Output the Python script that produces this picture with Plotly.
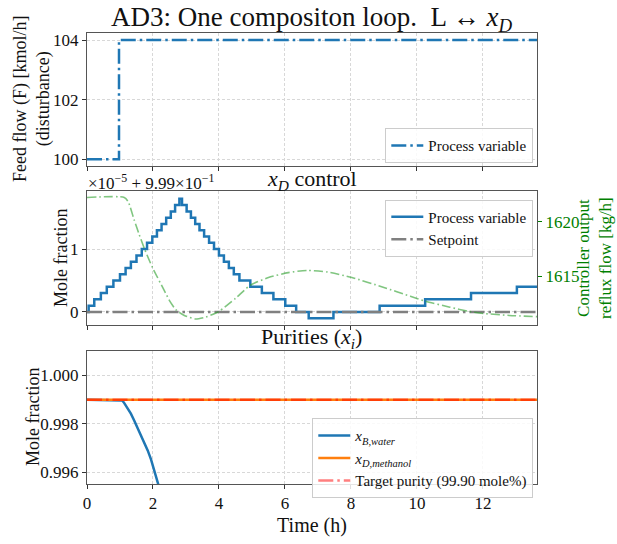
import plotly.graph_objects as go

# ---------------- data ----------------
# Top panel: feed flow disturbance (kmol/h)
feed_t = [0.0, 0.97, 13.64]
feed_F = [100.0, 104.0, 104.0]

# Middle panel: x_D process variable, shown as (x_D - 0.999) / 1e-5
pv_t = [0, 0.05, 0.22, 0.42, 0.6, 0.8, 1.0, 1.17, 1.33, 1.5, 1.66, 1.82, 1.98,
        2.12, 2.26, 2.4, 2.54, 2.67, 2.8, 2.88, 3.02, 3.15, 3.28, 3.41, 3.55,
        3.7, 3.85, 4.0, 4.15, 4.3, 4.45, 4.62, 4.95, 5.3, 5.65, 6.01, 6.34,
        6.72, 7.47, 8.87, 10.25, 11.64, 13.03, 13.64]
pv_val = [0, 0.1, 0.2, 0.3, 0.4, 0.5, 0.6, 0.7, 0.8, 0.9, 1.0, 1.1, 1.2,
          1.3, 1.4, 1.5, 1.6, 1.7, 1.8, 1.7, 1.6, 1.5, 1.4, 1.3, 1.2,
          1.1, 1.0, 0.9, 0.8, 0.7, 0.6, 0.5, 0.4, 0.3, 0.2, 0.1, 0.0,
          -0.1, 0.0, 0.1, 0.2, 0.3, 0.4, 0.4]
sp_t = [0, 13.64]
sp_val = [0, 0]

# Controller output: reflux flow (kg/h)
co_t = [0, 1.13, 1.25, 1.43, 1.58, 1.74, 1.99, 2.34, 2.5, 2.7, 2.95, 3.28,
        3.6, 3.99, 4.5, 4.95, 5.5, 6.1, 6.67, 7.3, 8.03, 9.0, 9.8, 10.25,
        11.0, 11.6, 12.02, 12.8, 13.64]
co_val = [1622.2, 1622.2, 1621.8, 1620.15, 1618.84, 1617.53, 1615.78, 1613.74,
          1612.8, 1611.95, 1611.45, 1611.13, 1611.3, 1611.8, 1613.0, 1614.2,
          1614.9, 1615.35, 1615.55, 1615.4, 1614.9, 1614.0, 1613.2, 1612.75,
          1612.2, 1611.8, 1611.63, 1611.45, 1611.34]

# Bottom panel: purities
xb_t = [0, 1.0, 1.07, 1.13, 1.23, 1.33, 1.43, 1.53, 1.64, 1.74, 1.84, 1.94, 2.04, 2.14, 2.3, 2.5]
xb_val = [0.999, 0.999, 0.99897, 0.99886, 0.99866, 0.99842, 0.99814, 0.99783, 0.99754,
          0.99724, 0.99690, 0.99653, 0.99612, 0.99567, 0.9949, 0.9939]
xd_t = [0, 13.64]
xd_val = [0.999, 0.999]
target_t = [0, 13.64]
target_val = [0.999, 0.999]

x_ticks = [0, 2, 4, 6, 8, 10, 12]

# ---------------- geometry helpers ----------------
W, H = 617, 544
L, R, T, B = 87, 537, 33, 504
def px(x):
    return (x - L) / (R - L)
def py(y):
    return (B - y) / (B - T)

FONT = "Liberation Serif"
BLUE = "#1f77b4"
DASHDOT = "15px,4px,2.5px,4px"

fig = go.Figure()

fig.add_trace(go.Scatter(x=feed_t, y=feed_F, mode="lines", line_shape="hv",
                         line=dict(color=BLUE, width=2.5, dash=DASHDOT),
                         name="Process variable", xaxis="x3", yaxis="y3",
                         legend="legend"))

fig.add_trace(go.Scatter(x=pv_t, y=pv_val, mode="lines", line_shape="hv",
                         line=dict(color=BLUE, width=2.5),
                         name="Process variable", xaxis="x2", yaxis="y2",
                         legend="legend2"))
fig.add_trace(go.Scatter(x=sp_t, y=sp_val, mode="lines",
                         line=dict(color="#808080", width=2.5, dash=DASHDOT),
                         name="Setpoint", xaxis="x2", yaxis="y2",
                         legend="legend2"))
fig.add_trace(go.Scatter(x=co_t, y=co_val, mode="lines", line_shape="spline",
                         line=dict(color="#2ca02c", width=1.6, dash="9px,3px,1.6px,3px", smoothing=0.6),
                         opacity=0.6, showlegend=False, xaxis="x2", yaxis="y4"))

fig.add_trace(go.Scatter(x=xb_t, y=xb_val, mode="lines",
                         line=dict(color=BLUE, width=2.5),
                         name="<i>x</i><sub><i>B,water</i></sub>", xaxis="x", yaxis="y",
                         legend="legend3"))
fig.add_trace(go.Scatter(x=xd_t, y=xd_val, mode="lines",
                         line=dict(color="#ff7f0e", width=2.5),
                         name="<i>x</i><sub><i>D,methanol</i></sub>", xaxis="x", yaxis="y",
                         legend="legend3"))
fig.add_trace(go.Scatter(x=target_t, y=target_val, mode="lines",
                         line=dict(color="rgba(255,0,0,0.5)", width=2.5, dash=DASHDOT),
                         name="Target purity (99.90 mole%)", xaxis="x", yaxis="y",
                         legend="legend3"))

axis_common = dict(showline=True, mirror=True, linecolor="#555", linewidth=1,
                   ticks="outside", ticklen=4, tickcolor="#333", tickwidth=1,
                   showgrid=True, gridcolor="#d8d8d8", griddash="3px,2px", gridwidth=0.8,
                   zeroline=False, tickfont=dict(family=FONT, size=17, color="#111"))

xr = [0, 13.64]
d_bot = [0, py(365)]
d_mid = [py(337.7), py(198.3)]
d_top = [py(171.7), 1.0]

leg_common = dict(bgcolor="rgba(255,255,255,0.85)", bordercolor="#cccccc", borderwidth=1,
                  font=dict(family=FONT, size=15), itemwidth=32)

fig.update_layout(
    width=W, height=H, margin=dict(l=L, r=W - R, t=T, b=H - B),
    paper_bgcolor="white", plot_bgcolor="white",
    font=dict(family=FONT, size=16, color="#111"),
    xaxis=dict(axis_common, domain=[0, 1], anchor="y", range=xr, tickvals=x_ticks,
               title=dict(text="Time (h)", font=dict(family=FONT, size=20), standoff=5)),
    xaxis2=dict(axis_common, domain=[0, 1], anchor="y2", range=xr, tickvals=x_ticks,
                showticklabels=False, matches="x"),
    xaxis3=dict(axis_common, domain=[0, 1], anchor="y3", range=xr, tickvals=x_ticks,
                showticklabels=False, matches="x"),
    yaxis=dict(axis_common, domain=d_bot, anchor="x", range=[0.99551, 1.00102],
               tickvals=[0.996, 0.998, 1.000], tickformat=".3f"),
    yaxis2=dict(axis_common, domain=d_mid, anchor="x2", range=[-0.204, 1.92],
                tickvals=[0, 1]),
    yaxis3=dict(axis_common, domain=d_top, anchor="x3", range=[99.78, 104.235],
                tickvals=[100, 102, 104]),
    yaxis4=dict(overlaying="y2", side="right", anchor="x2", range=[1610.6, 1622.76],
                tickvals=[1615, 1620], showgrid=False, zeroline=False,
                ticks="outside", ticklen=4, tickcolor="green", showline=False,
                tickfont=dict(family=FONT, size=17, color="green")),
    legend=dict(leg_common, x=px(533.3), xanchor="right", y=py(169), yanchor="bottom"),
    legend2=dict(leg_common, x=px(533.3), xanchor="right", y=py(207), yanchor="top"),
    legend3=dict(leg_common, x=px(533.3), xanchor="right", y=py(519), yanchor="bottom"),
)

ann = []
def add_text(text, x, y, size, angle=0, color="#111", xanchor="center", yanchor="middle"):
    ann.append(dict(text=text, x=px(x), y=py(y), xref="paper", yref="paper",
                    showarrow=False, textangle=angle, xanchor=xanchor, yanchor=yanchor,
                    font=dict(family=FONT, size=size, color=color)))

add_text("AD3: One compositon loop.  L \u2194 <i>x</i><sub><i>D</i></sub>", 311.7, 18, 27)
add_text("<i>x</i><sub><i>D</i></sub> control", 311.7, 187, 22)
add_text("Purities (<i>x</i><sub><i>i</i></sub>)", 311.7, 352, 22)
add_text("\u00d710<sup>\u22125</sup> + 9.99\u00d710<sup>\u22121</sup>", 86, 189, 17, xanchor="left")
add_text("Feed flow (F) [kmol/h]<br>(disturbance)", 32, 102, 18, angle=-90)
add_text("Mole fraction", 61, 268, 18, angle=-90)
add_text("Mole fraction", 33, 434, 18, angle=-90)
add_text("Controller output<br>reflux flow [kg/h]", 594, 268, 17, angle=-90, color="green")
fig.update_layout(annotations=ann)

fig.write_html("out.html")
